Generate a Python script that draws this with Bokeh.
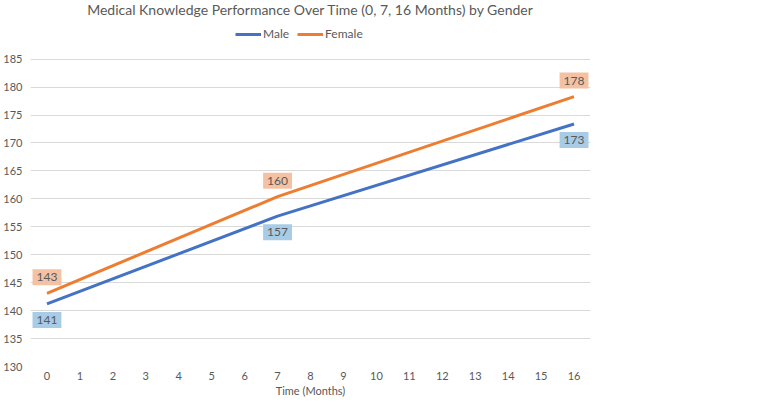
from bokeh.plotting import figure
from bokeh.models import Legend, LegendItem, Range1d, FixedTicker, ColumnDataSource, Title
from bokeh.core.properties import value
from bokeh.embed import file_html
from bokeh.resources import INLINE

months = [0, 7, 16]
male = [141.2, 156.9, 173.4]
female = [143.1, 160.4, 178.3]
x_ticks = list(range(0, 17))
y_ticks = list(range(130, 190, 5))

FONT = "Lato"
GREY = "#595959"
BLUE = "#4472C4"
ORANGE = "#ED7D31"

p = figure(width=746, height=399, output_backend="svg", toolbar_location=None,
           x_range=Range1d(-0.5, 16.5), y_range=Range1d(130, 192.1),
           min_border_left=28, min_border_right=156, min_border_top=18, min_border_bottom=0)
p.outline_line_color = None

p.xaxis.ticker = FixedTicker(ticks=x_ticks)
p.yaxis.ticker = FixedTicker(ticks=y_ticks)
for ax in (p.xaxis, p.yaxis):
    ax.axis_line_color = None
    ax.major_tick_line_color = None
    ax.minor_tick_line_color = None
    ax.major_tick_out = 0
    ax.major_tick_in = 0
    ax.major_label_text_font = FONT
    ax.major_label_text_font_size = "11px"
    ax.major_label_text_color = GREY
p.yaxis.major_label_standoff = 8
p.xaxis.major_label_standoff = 5
p.xaxis.axis_label = "Time (Months)"
p.xaxis.axis_label_text_font = FONT
p.xaxis.axis_label_text_font_size = "11px"
p.xaxis.axis_label_text_font_style = "normal"
p.xaxis.axis_label_text_color = GREY
p.xaxis.axis_label_standoff = 1

p.xgrid.grid_line_color = None
p.ygrid.grid_line_color = "#D9D9D9"
p.ygrid.grid_line_width = 1

src = ColumnDataSource(dict(x=months, m=male, f=female,
                            ml=[str(round(v)) for v in male],
                            fl=[str(round(v)) for v in female]))

rm = p.line("x", "m", source=src, line_color=BLUE, line_width=3)
rf = p.line("x", "f", source=src, line_color=ORANGE, line_width=3)

p.text("x", "f", text="fl", source=src, text_align="center", text_baseline="middle",
       y_offset=-16, text_font=value(FONT), text_font_size="12px", text_color=GREY,
       background_fill_color="#F4C2A3", padding=4)
p.text("x", "m", text="ml", source=src, text_align="center", text_baseline="middle",
       y_offset=16, text_font=value(FONT), text_font_size="12px", text_color=GREY,
       background_fill_color="#A8CBE6", padding=4)

legend = Legend(items=[LegendItem(label="Male", renderers=[rm]),
                       LegendItem(label="Female", renderers=[rf])],
                orientation="horizontal", location=(205, 325),
                label_text_font=FONT, label_text_font_size="12px", label_text_color=GREY,
                glyph_width=26, glyph_height=12, label_standoff=2, spacing=8,
                label_height=12,
                border_line_color=None, background_fill_alpha=0, margin=0, padding=0)
p.add_layout(legend, "center")

p.title = Title(text="Medical Knowledge Performance Over Time (0, 7, 16 Months) by Gender",
                align="center", vertical_align="top", text_font=FONT, text_font_size="14px",
                text_font_style="normal", text_color=GREY, standoff=0)

open("out.html", "w").write(file_html(p, INLINE))
